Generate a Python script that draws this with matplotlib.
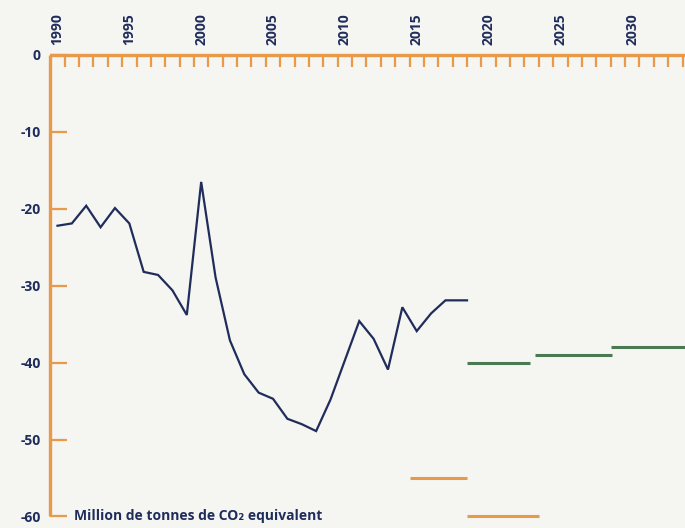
import matplotlib.pyplot as plt
from matplotlib.ticker import FixedLocator

# emissions / absorptions, Mt CO2 eq
years = list(range(1990, 2019))
values = [-22.2, -21.9, -19.6, -22.4, -19.9, -21.9, -28.2, -28.6, -30.6, -33.8,
          -16.5, -28.9, -37.1, -41.5, -43.9, -44.7, -47.3, -48.0, -48.9, -44.8,
          -39.7, -34.6, -36.9, -40.9, -32.8, -35.9, -33.6, -31.9, -31.9]

# target periods (start year, end year, value)
green_start = [2019.0, 2023.7, 2029.0]
green_end = [2023.4, 2029.1, 2034.5]
green_val = [-40, -39, -38]

orange_start = [2015, 2019]
orange_end = [2019, 2024]
orange_val = [-55, -60]

label_years = [1990, 1995, 2000, 2005, 2010, 2015, 2020, 2025, 2030]
yticks = [0, -10, -20, -30, -40, -50, -60]

bg = '#f5f5f1'
navy = '#202d5c'
orange = '#e8994a'
green = '#4b7a52'
fam = ['Open Sans', 'DejaVu Sans']

fig = plt.figure(figsize=(6.85, 5.28), dpi=100, facecolor=bg)
ax = fig.add_axes([0, 0, 1, 1], facecolor=bg)

x = [y - 1990 + 0.5 for y in years]
# line runs to the edge of the last year band
ax.plot(x + [x[-1] + 0.5], values + [values[-1]], color=navy, lw=1.6,
        solid_joinstyle='miter', zorder=3)

for s, e, v in zip(green_start, green_end, green_val):
    ax.hlines(v, s - 1990, e - 1990, color=green, lw=2.2)
for s, e, v in zip(orange_start, orange_end, orange_val):
    ax.hlines(v, s - 1990, e - 1990, color=orange, lw=2.2)

ax.set_xlim(-3.5, 44.17)
ax.set_ylim(-61.5, 7.15)

ax.spines['right'].set_visible(False)
ax.spines['top'].set_visible(False)
ax.spines['bottom'].set_position(('data', 0))
ax.spines['bottom'].set_bounds(0, 44.5)
ax.spines['left'].set_position(('data', 0))
ax.spines['left'].set_bounds(-60, 0)
for sp in ['bottom', 'left']:
    ax.spines[sp].set_color(orange)
    ax.spines[sp].set_linewidth(2.4)
    ax.spines[sp].set_capstyle('butt')

ax.xaxis.set_major_locator(FixedLocator(range(1, 45)))
ax.tick_params(axis='x', direction='out', length=8.5, width=1.6, color=orange,
               labelbottom=False)
ax.yaxis.set_major_locator(FixedLocator(yticks))
ax.tick_params(axis='y', direction='in', length=12, width=1.6, color=orange, pad=7)
ax.set_yticklabels([str(t) for t in yticks])
for lab in ax.get_yticklabels():
    lab.set_family(fam)
    lab.set_fontweight('bold')
    lab.set_fontsize(10)
    lab.set_color(navy)

for yr in label_years:
    ax.annotate(str(yr), (yr - 1990 + 0.5, 0), xytext=(0, 7), textcoords='offset points',
                rotation=90, ha='center', va='bottom', fontsize=10, fontweight='bold',
                color=navy, family=fam)

ax.annotate('Million de tonnes de CO₂ equivalent', (0, -60), xytext=(17, 0),
            textcoords='offset points', ha='left', va='center', fontsize=10,
            fontweight='bold', color=navy, family=fam)

fig.savefig('out.png', dpi=100, facecolor=bg)
